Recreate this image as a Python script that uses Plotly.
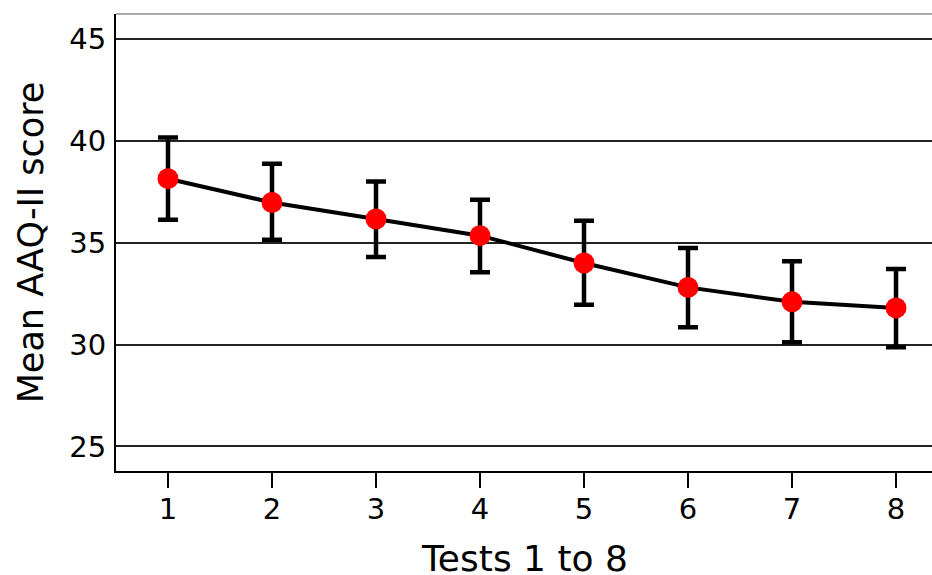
import plotly.graph_objects as go

tests = [1, 2, 3, 4, 5, 6, 7, 8]
mean_score = [38.15, 36.98, 36.17, 35.35, 34.01, 32.81, 32.10, 31.80]
upper = [40.17, 38.88, 38.01, 37.11, 36.08, 34.74, 34.09, 33.71]
lower = [36.13, 35.15, 34.30, 33.55, 31.96, 30.85, 30.11, 29.87]
y_ticks = [25, 30, 35, 40, 45]
x_ticks = [1, 2, 3, 4, 5, 6, 7, 8]
x_title = "Tests 1 to 8"
y_title = "Mean AAQ-II score"

err_plus = [u - m for u, m in zip(upper, mean_score)]
err_minus = [m - l for m, l in zip(mean_score, lower)]

FONT = "DejaVu Sans"

fig = go.Figure()
fig.add_trace(go.Scatter(
    x=tests, y=mean_score, mode="lines+markers",
    line=dict(color="black", width=4),
    marker=dict(color="#ff0000", size=21, line=dict(width=0)),
    error_y=dict(type="data", symmetric=False, array=err_plus, arrayminus=err_minus,
                 color="black", thickness=4.5, width=10),
    showlegend=False,
))

fig.update_layout(
    width=932, height=575,
    margin=dict(l=116, r=0, t=14, b=104),
    paper_bgcolor="white", plot_bgcolor="white",
    font=dict(family=FONT, color="black"),
    xaxis=dict(
        range=[0.5, 8.346], tickvals=x_ticks, ticktext=[str(t) for t in x_ticks],
        showgrid=False, zeroline=False, automargin=False,
        showline=True, linecolor="black", linewidth=2,
        ticks="outside", ticklen=15, tickwidth=1.5, tickcolor="black",
        ticklabelstandoff=-4,
        tickfont=dict(size=29, family=FONT),
    ),
    yaxis=dict(
        range=[23.79, 46.24], tickvals=y_ticks,
        showgrid=True, gridcolor="#222222", gridwidth=1.5, zeroline=False, automargin=False,
        showline=True, linecolor="black", linewidth=2,
        ticks="", ticklabelstandoff=2,
        tickfont=dict(size=29, family=FONT),
        title=dict(text=y_title, font=dict(size=35, family=FONT), standoff=15),
    ),
    annotations=[dict(text=x_title, xref="paper", yref="paper", x=0.5, y=-0.192,
                      xanchor="center", yanchor="middle", showarrow=False,
                      font=dict(size=36, family=FONT, color="black"))],
    shapes=[dict(type="line", xref="paper", yref="paper", x0=0, x1=1, y0=1, y1=1,
                 line=dict(color="#aaaaaa", width=2))],
)

fig.write_html("out.html", config={"displayModeBar": False},
               post_script="document.body.style.margin='0';document.body.style.overflow='hidden';")
